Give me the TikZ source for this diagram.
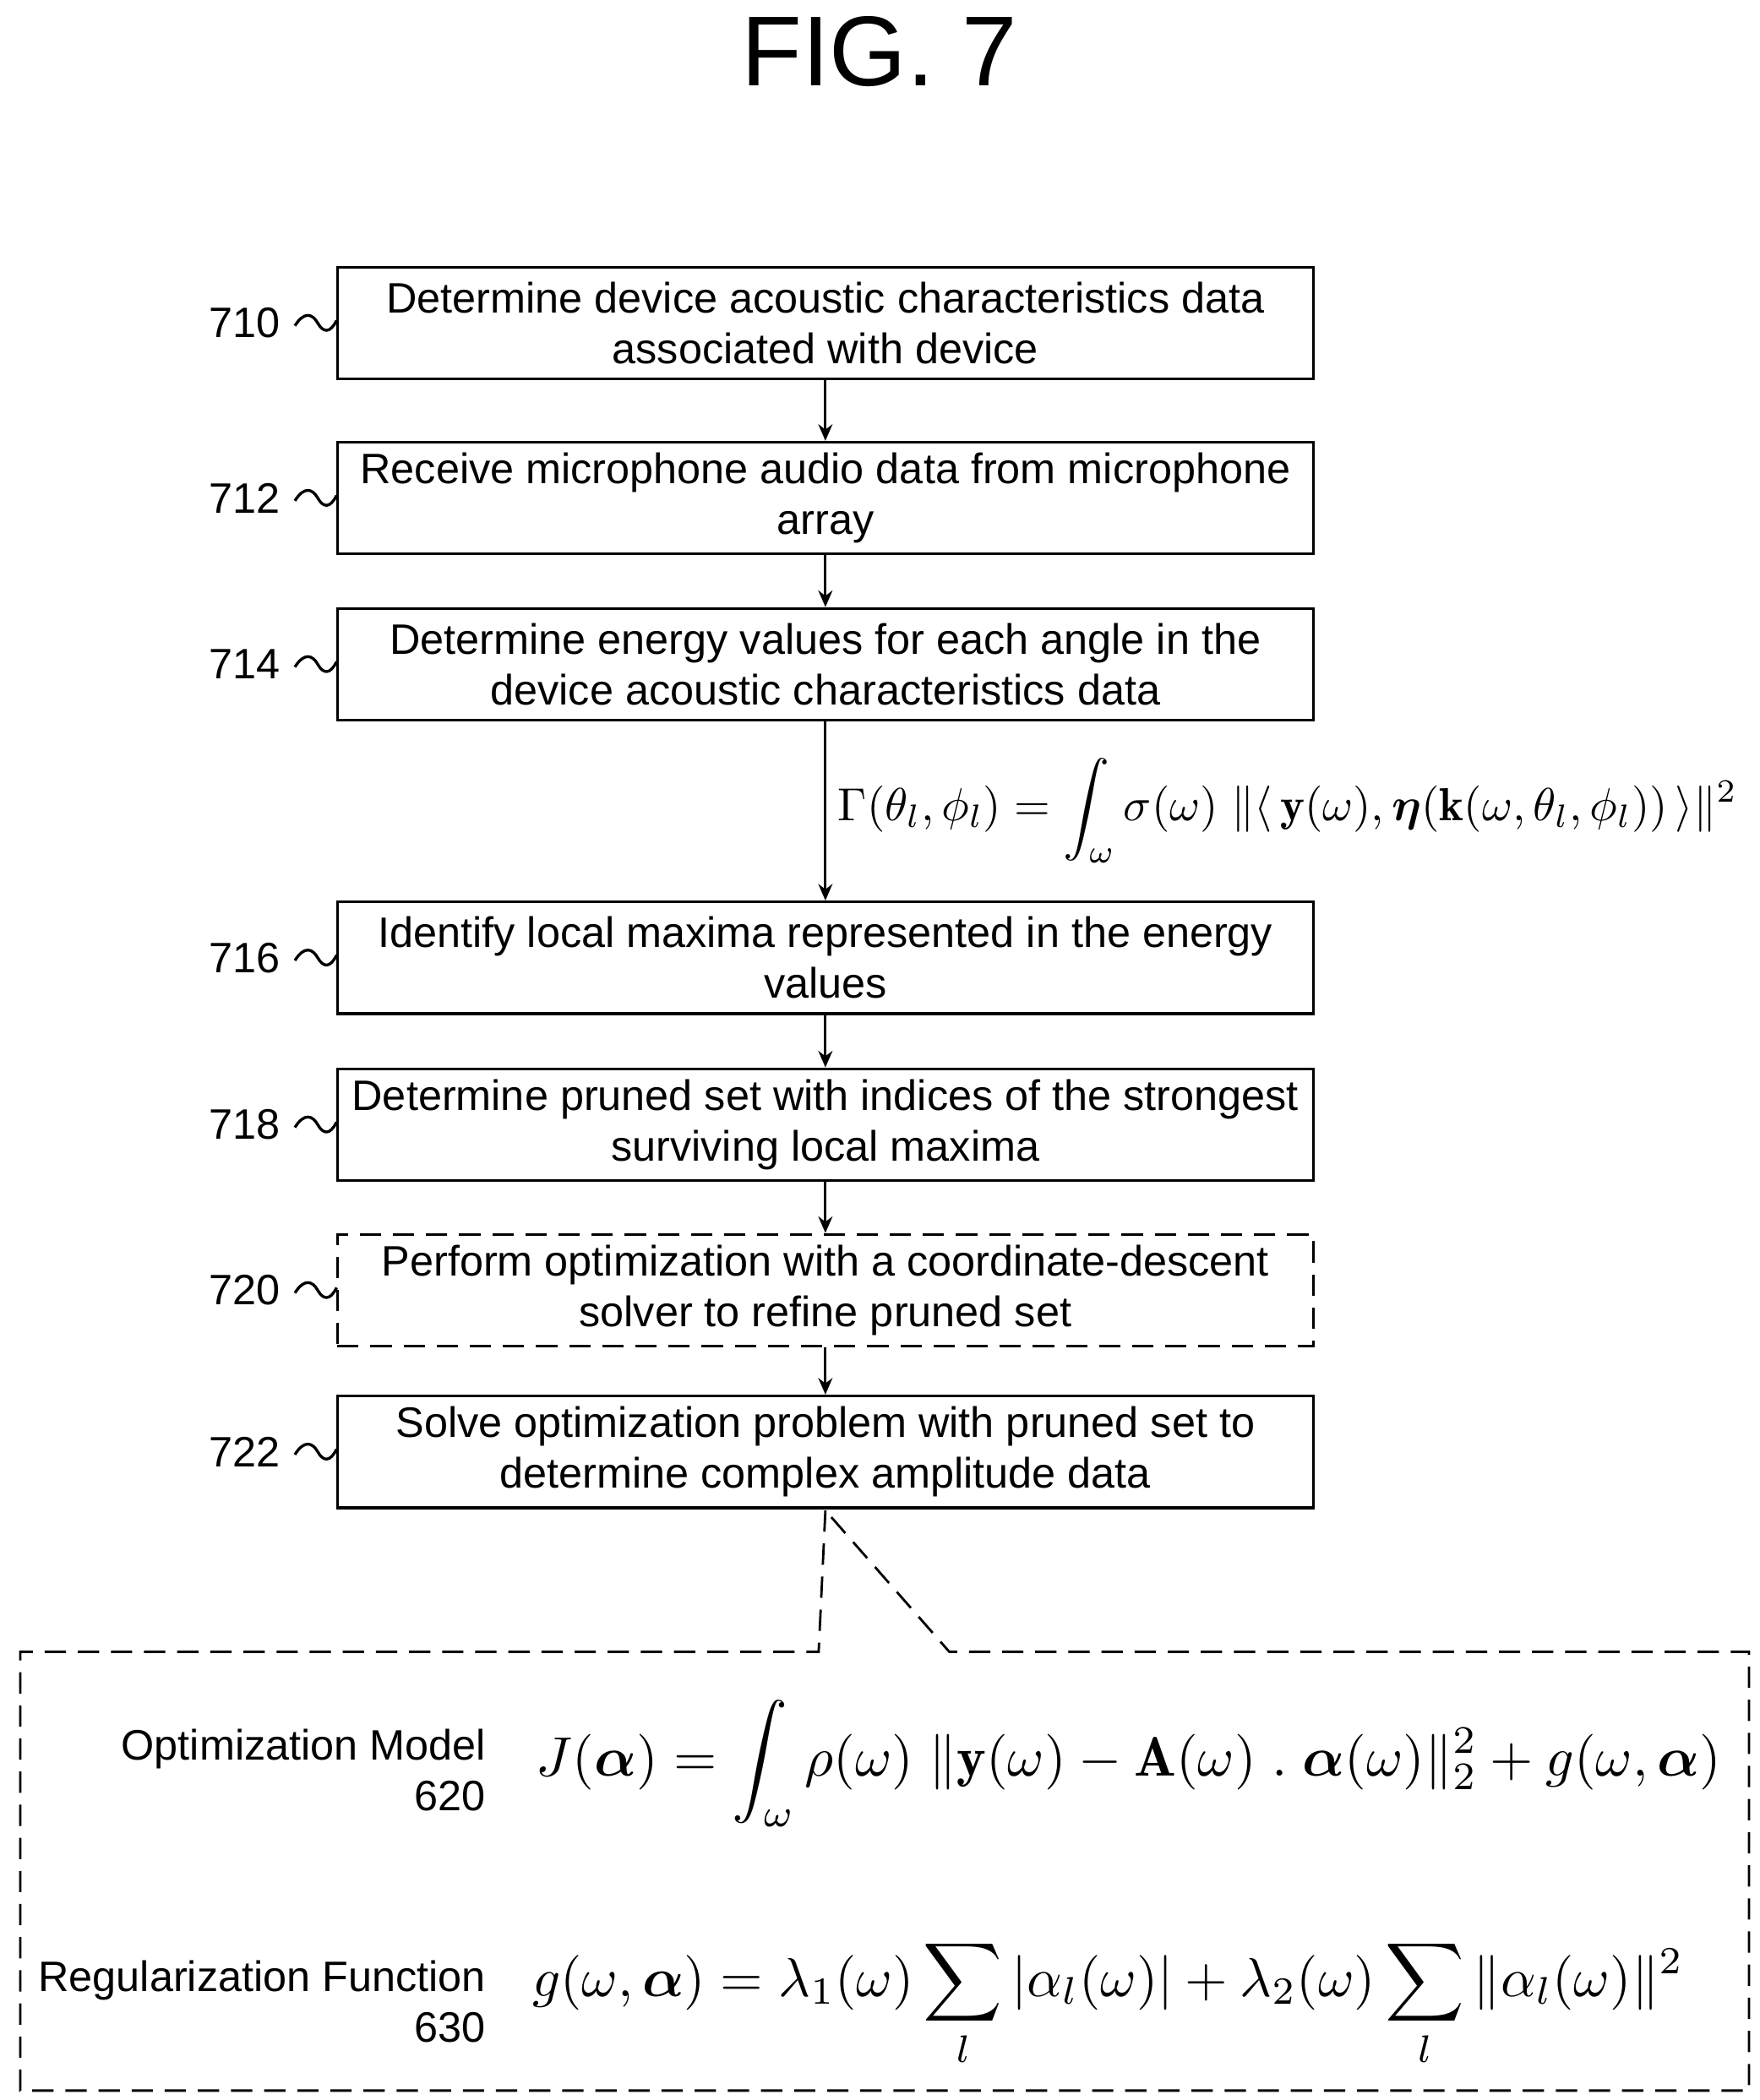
\documentclass[tikz,border=0pt]{standalone}
\usetikzlibrary{arrows.meta}
\usepackage{fontspec}
\usepackage{amsmath,amssymb,bm,graphicx}
\setsansfont{Liberation Sans}
\begin{document}
\begin{tikzpicture}[x=0.02cm,y=-0.02cm,
  box/.style={draw,line width=1.2pt,minimum width=725*0.02cm,minimum height=83*0.02cm,align=center,font=\sffamily\fontsize{18}{21.5}\selectfont,inner sep=0pt},
  lab/.style={font=\sffamily\fontsize{18}{21.5}\selectfont,anchor=east},
  arr/.style={-{Stealth[length=7pt,width=6pt]},line width=1pt},
  dsh/.style={dash pattern=on 9pt off 5pt,line width=1pt}]
\useasboundingbox (0,0) rectangle (1307,1560);
\node[font=\sffamily\fontsize{42}{44}\selectfont] (title) at (653,38) {FIG. 7};
\node[box] (b710) at (613,240) {Determine device acoustic characteristics data\\associated with device};
\node[box] (b712) at (613,370) {Receive microphone audio data from microphone\\array};
\node[box] (b714) at (613,493.5) {Determine energy values for each angle in the\\device acoustic characteristics data};
\node[box] (b716) at (613,711.5) {Identify local maxima represented in the energy\\values};
\node[box] (b718) at (613,835.5) {Determine pruned set with indices of the strongest\\surviving local maxima};
\node[box,dash pattern=on 9pt off 5pt] (b720) at (613,958.5) {Perform optimization with a coordinate-descent\\solver to refine pruned set};
\node[box] (b722) at (613,1078.5) {Solve optimization problem with pruned set to\\determine complex amplitude data};
\foreach \n/\y in {710/240,712/370,714/493.5,716/711.5,718/835.5,720/958.5,722/1078.5}{
  \node[lab] (l\n) at (214,\y) {\n};
  \draw[line width=1.2pt] (219,\y+2) .. controls (226,\y-9) and (232,\y-7) .. (236,\y) .. controls (240,\y+7) and (245,\y+8) .. (250,\y-2);
}
\draw[arr] (b710) -- (b712);
\draw[arr] (b712) -- (b714);
\draw[arr] (b714) -- (b716);
\draw[arr] (b716) -- (b718);
\draw[arr] (b718) -- (b720);
\draw[arr] (b720) -- (b722);
\node[anchor=west,inner sep=0pt] (gam) at (622,602) {\resizebox{668\dimexpr0.02cm\relax}{!}{$\Gamma(\theta_l,\phi_l)=\displaystyle\int_\omega \sigma(\omega)\;\|\langle\,\mathbf{y}(\omega),\bm{\eta}(\mathbf{k}(\omega,\theta_l,\phi_l))\,\rangle\|^2$}};
\coordinate (c0) at (613,1122);
\coordinate (c1) at (608,1227);
\coordinate (c2) at (705,1227);
\draw[dsh] (c0) -- (c1) -- (15,1227) -- (15,1553) -- (1299,1553) -- (1299,1227) -- (c2) -- (c0);
\node[lab,align=right] (l620) at (367,1315) {Optimization Model\\620};
\node[lab,align=right] (l630) at (367,1487) {Regularization Function\\630};
\node[anchor=west,inner sep=0pt] (jf) at (398,1310) {\resizebox{880\dimexpr0.02cm\relax}{!}{$J(\bm{\alpha})=\displaystyle\int_\omega \rho(\omega)\;\|\mathbf{y}(\omega)-\mathbf{A}(\omega)\;.\;\bm{\alpha}(\omega)\|_2^2+g(\omega,\bm{\alpha})$}};
\node[anchor=west,inner sep=0pt] (gf) at (395,1488) {\resizebox{855\dimexpr0.02cm\relax}{!}{$g(\omega,\bm{\alpha})=\lambda_1(\omega)\displaystyle\sum_l|\alpha_l(\omega)|+\lambda_2(\omega)\sum_l\|\alpha_l(\omega)\|^2$}};
\end{tikzpicture}
\end{document}
